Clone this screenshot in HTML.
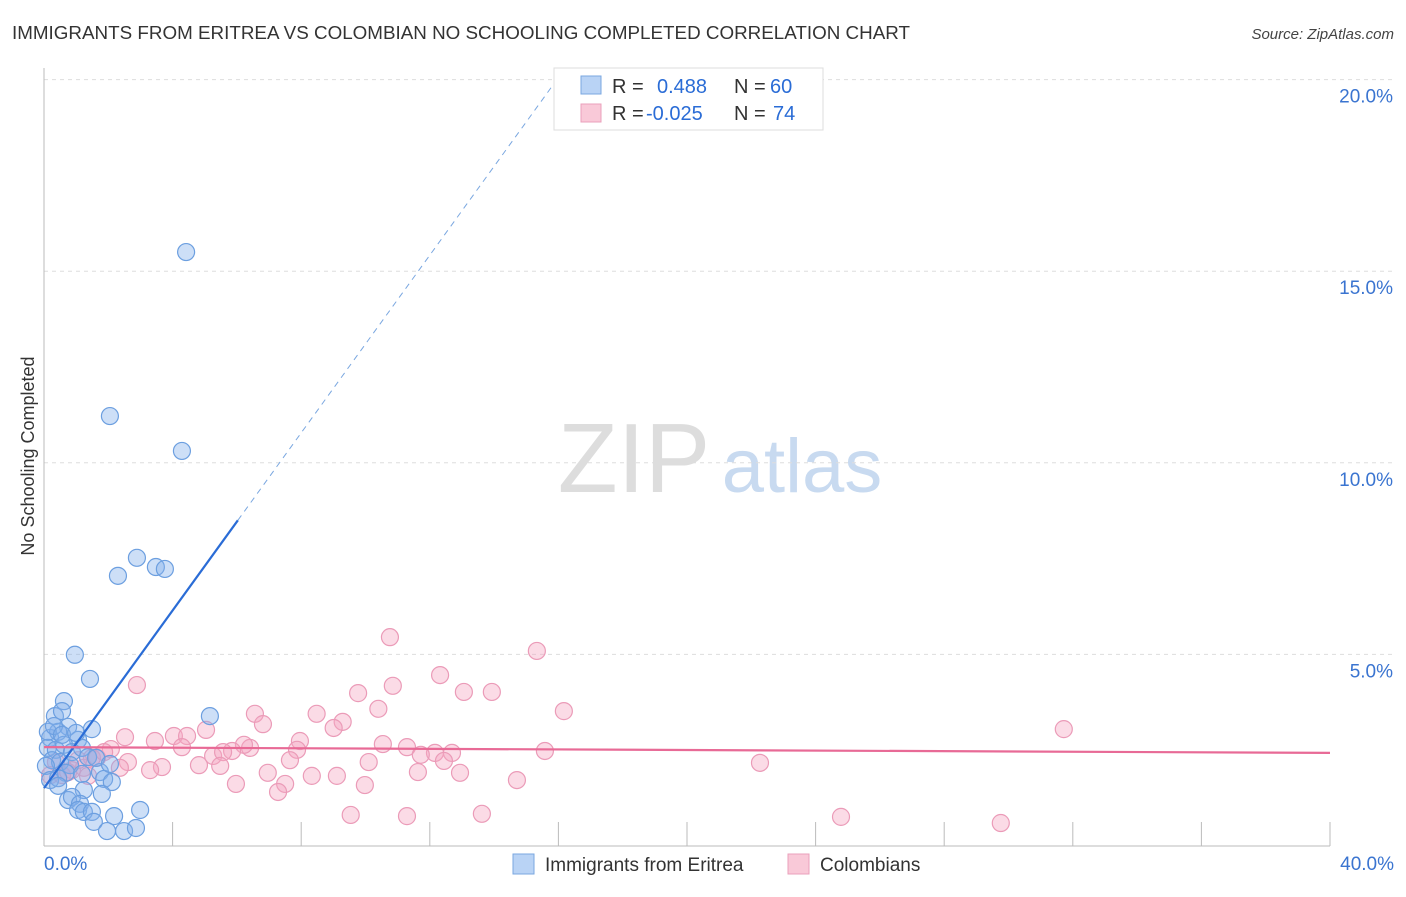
<!DOCTYPE html>
<html><head><meta charset="utf-8"><style>
body{margin:0;background:#fff;font-family:"Liberation Sans",sans-serif}
svg text{font-family:"Liberation Sans",sans-serif}
</style></head><body>
<svg id="chart" width="1406" height="892" xmlns="http://www.w3.org/2000/svg">
<text x="12" y="39" font-size="18" fill="#333" textLength="898" lengthAdjust="spacingAndGlyphs">IMMIGRANTS FROM ERITREA VS COLOMBIAN NO SCHOOLING COMPLETED CORRELATION CHART</text>
<text x="1394" y="39" font-size="15" fill="#444" text-anchor="end" font-style="italic">Source: ZipAtlas.com</text>
<text transform="translate(34,456) rotate(-90)" font-size="18" fill="#333" text-anchor="middle">No Schooling Completed</text>
<g id="watermark">
<text x="634" y="492" font-size="98" fill="#ddd" text-anchor="middle" font-family="Liberation Serif">ZIP</text>
<text x="802" y="492" font-size="76" fill="#c8daf0" text-anchor="middle">atlas</text></g>
<g id="grid"></g><g id="axes"></g><g id="pts"></g><g id="trends"></g>
<g>
<rect x="554" y="68" width="269" height="62" fill="#fff" stroke="#ddd"/>
<rect x="581" y="76" width="20" height="18" fill="#b9d3f5" stroke="#7aa7e0"/>
<rect x="581" y="104" width="20" height="18" fill="#f9c9d8" stroke="#eaa0bb"/>
<text x="612" y="93" font-size="20" fill="#333">R =</text><text x="657" y="93" font-size="20" fill="#2a6cd6">0.488</text>
<text x="734" y="93" font-size="20" fill="#333">N =</text><text x="770" y="93" font-size="20" fill="#2a6cd6">60</text>
<text x="612" y="120" font-size="20" fill="#333">R =</text><text x="646" y="120" font-size="20" fill="#2a6cd6">-0.025</text>
<text x="734" y="120" font-size="20" fill="#333">N =</text><text x="773" y="120" font-size="20" fill="#2a6cd6">74</text>
</g>
<g>
<rect x="513" y="854" width="21" height="20" fill="#b9d3f5" stroke="#7aa7e0"/>
<text x="545" y="871" font-size="19" fill="#333">Immigrants from Eritrea</text>
<rect x="788" y="854" width="21" height="20" fill="#f9c9d8" stroke="#eaa0bb"/>
<text x="820" y="871" font-size="19" fill="#333">Colombians</text>
</g>
</svg>
<script>
const yTicks=[5,10,15,20];
const yTickLabels=["5.0%","10.0%","15.0%","20.0%"];
const xTicks=[0,4,8,12,16,20,24,28,32,36,40];
const blueX=[4.42,2.05,4.29,2.89,2.30,3.48,3.76,0.96,1.43,0.62,5.16,0.34,0.56,0.75,1.49,0.19,0.44,1.06,0.12,0.37,0.62,0.87,1.18,1.37,0.25,0.50,0.81,0.06,1.74,1.62,0.68,1.18,1.87,2.11,1.24,0.75,0.87,1.80,1.12,1.06,1.24,1.49,2.99,2.18,1.55,1.96,2.49,2.86,0.12,0.31,0.19,0.44,0.56,1.00,2.05,0.44];
const blueY=[15.50,11.22,10.31,7.52,7.05,7.28,7.23,4.99,4.36,3.78,3.39,3.39,3.52,3.11,3.05,2.82,2.98,2.77,2.56,2.51,2.64,2.45,2.56,2.32,2.24,2.19,2.11,2.09,1.93,2.30,1.91,1.88,1.75,1.67,1.46,1.20,1.28,1.36,1.10,0.94,0.89,0.89,0.94,0.78,0.63,0.39,0.39,0.47,2.98,3.13,1.72,1.77,2.90,2.95,2.14,1.57];
const pinkX=[10.76,15.33,12.32,10.85,9.77,13.06,13.93,2.89,10.40,16.17,6.56,8.48,9.29,9.01,6.81,5.04,31.72,4.04,4.45,2.52,3.45,7.96,10.54,15.58,4.29,6.41,6.22,7.87,11.29,12.16,12.69,11.72,2.08,5.85,5.26,1.65,5.57,7.65,10.10,12.44,2.61,22.27,4.82,5.48,3.67,3.30,6.96,8.33,11.63,12.94,9.11,5.97,9.98,7.50,14.71,7.28,9.54,11.29,13.62,24.79,29.76,0.56,0.87,0.37,1.24,1.49,1.87,0.75,0.19,2.36,1.06,1.37];
const pinkY=[5.45,5.09,4.46,4.18,3.99,4.02,4.02,4.20,3.58,3.52,3.45,3.45,3.24,3.08,3.18,3.03,3.05,2.87,2.87,2.84,2.74,2.74,2.66,2.48,2.58,2.56,2.64,2.51,2.58,2.43,2.43,2.38,2.53,2.48,2.35,2.30,2.45,2.24,2.19,2.22,2.19,2.17,2.11,2.09,2.06,1.98,1.91,1.83,1.93,1.91,1.83,1.62,1.59,1.62,1.72,1.41,0.81,0.78,0.84,0.76,0.60,1.85,1.98,2.19,2.04,2.30,2.45,1.93,1.85,2.04,2.24,1.83];
const blueTrend=[1.51,1.159];
const pinkTrend=[2.58,2.43];
const NS="http://www.w3.org/2000/svg";
const sx=v=>44+v/40*1286, sy=v=>846-v/5*191.6;
function mk(tag,attrs,parent){const e=document.createElementNS(NS,tag);for(const k in attrs)e.setAttribute(k,attrs[k]);document.getElementById(parent).appendChild(e);return e;}
yTicks.forEach((t,i)=>{
 const l=mk('line',{x1:44,x2:1395,y1:sy(t),y2:sy(t),stroke:'#ddd','stroke-dasharray':'4,4'},'grid');
 
 
 const tx=mk('text',{x:1393,y:sy(t)+23,'font-size':19,fill:'#3a74d0','text-anchor':'end'},'axes');tx.textContent=yTickLabels[i];
 
 
});
mk('line',{x1:44,x2:44,y1:68,y2:846,stroke:'#bbb'},'axes');
mk('line',{x1:44,x2:1330,y1:846,y2:846,stroke:'#bbb'},'axes');
xTicks.forEach(t=>{const l=mk('line',{x1:sx(t),x2:sx(t),y1:822,y2:846,stroke:'#bbb'},'axes');
 
 });
const x0=mk('text',{x:44,y:870,'font-size':19,fill:'#3a74d0'},'axes');x0.textContent='0.0%';


const x1=mk('text',{x:1394,y:870,'font-size':19,fill:'#3a74d0','text-anchor':'end'},'axes');x1.textContent='40.0%';


pinkX.forEach((x,i)=>{const c=mk('circle',{cx:sx(x),cy:sy(pinkY[i]),r:8.5,fill:'rgba(245,165,192,0.4)',stroke:'#eb9bb8','stroke-width':1.2},'pts');
 
 });
blueX.forEach((x,i)=>{const c=mk('circle',{cx:sx(x),cy:sy(blueY[i]),r:8.5,fill:'rgba(130,175,235,0.4)',stroke:'#6c9fe0','stroke-width':1.2},'pts');
 
 });
const xs=6.03, xe=(20-blueTrend[0])/blueTrend[1];
const b1=mk('line',{x1:sx(0),y1:sy(blueTrend[0]),x2:sx(xs),y2:sy(blueTrend[0]+blueTrend[1]*xs),stroke:'#2a6cd6','stroke-width':2.2},'trends');


const b2=mk('line',{x1:sx(xs),y1:sy(blueTrend[0]+blueTrend[1]*xs),x2:sx(xe),y2:sy(20),stroke:'#7aa7e0','stroke-width':1,'stroke-dasharray':'6,5'},'trends');


const p1=mk('line',{x1:sx(0),y1:sy(pinkTrend[0]),x2:sx(40),y2:sy(pinkTrend[1]),stroke:'#e86a96','stroke-width':2.2},'trends');


</script>
</body></html>
